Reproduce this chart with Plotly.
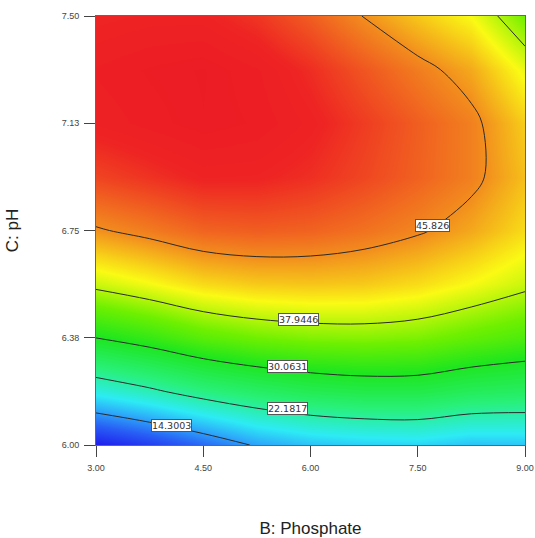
import plotly.graph_objects as go

# ---- data ----
B_VALUES = [3.0, 3.75, 4.5, 5.25, 6.0, 6.75, 7.5, 8.25, 9.0]          # B: Phosphate
C_VALUES = [6.0, 6.1875, 6.375, 6.5625, 6.75, 6.9375, 7.125, 7.3125, 7.5]  # C: pH

# response estimated on the grid (rows = C ascending, cols = B ascending)
RESP_C600 = [6.7, 9.0, 11.7, 14.7, 16.3, 17.0, 17.3, 16.3, 16.5]
RESP_C619 = [19.4, 21.5, 23.9, 25.6, 26.9, 27.6, 27.6, 26.4, 25.9]
RESP_C638 = [30.1, 31.9, 34.0, 35.3, 36.0, 36.2, 35.8, 34.5, 33.3]
RESP_C656 = [38.8, 40.4, 42.1, 42.9, 43.1, 42.9, 42.0, 40.5, 38.7]
RESP_C675 = [45.5, 46.8, 48.2, 48.6, 48.3, 47.4, 46.2, 44.5, 42.0]
RESP_C694 = [50.1, 51.2, 52.3, 52.2, 51.4, 50.0, 48.4, 46.6, 43.4]
RESP_C713 = [52.8, 53.6, 54.3, 53.8, 52.5, 50.6, 48.6, 46.6, 42.7]
RESP_C731 = [53.4, 54.0, 54.4, 53.4, 51.5, 49.1, 46.8, 44.5, 40.0]
RESP_C750 = [52.0, 52.4, 52.4, 51.0, 48.6, 45.7, 43.0, 40.5, 35.3]

CONTOUR_LEVELS = [14.3003, 22.18172, 30.06314, 37.94456, 45.82598]

X_TICK_VALUES = [3.0, 4.5, 6.0, 7.5, 9.0]
X_TICK_LABELS = ["3.00", "4.50", "6.00", "7.50", "9.00"]
Y_TICK_VALUES = [6.0, 6.375, 6.75, 7.125, 7.5]
Y_TICK_LABELS = ["6.00", "6.38", "6.75", "7.13", "7.50"]

X_TITLE = "B: Phosphate"
Y_TITLE = "C: pH"

# ---- styling / layout (not data) ----
LABEL_POS_B = [4.053, 5.685, 5.685, 5.832, 7.706]
LABEL_POS_C = [6.068, 6.128, 6.273, 6.440, 6.769]

Z = [RESP_C600, RESP_C619, RESP_C638, RESP_C656, RESP_C675,
     RESP_C694, RESP_C713, RESP_C731, RESP_C750]

colorscale = [
    [0.00, "rgb(30,25,235)"],
    [0.10, "rgb(40,95,245)"],
    [0.18, "rgb(45,170,250)"],
    [0.25, "rgb(45,235,245)"],
    [0.37, "rgb(40,240,120)"],
    [0.50, "rgb(30,230,30)"],
    [0.60, "rgb(110,240,0)"],
    [0.71, "rgb(250,250,20)"],
    [0.82, "rgb(242,140,30)"],
    [0.95, "rgb(238,35,35)"],
    [1.00, "rgb(236,28,36)"],
]

step = (CONTOUR_LEVELS[-1] - CONTOUR_LEVELS[0]) / (len(CONTOUR_LEVELS) - 1)

fig = go.Figure()
fig.add_trace(go.Contour(
    x=B_VALUES, y=C_VALUES, z=Z,
    colorscale=colorscale, zmin=6.5, zmax=54.5, showscale=False,
    autocontour=False,
    contours=dict(coloring="heatmap", start=CONTOUR_LEVELS[0],
                  end=CONTOUR_LEVELS[-1] + step * 0.01, size=step,
                  showlines=True, showlabels=False),
    line=dict(color="#2a2a2a", width=1, smoothing=1.0),
    hoverinfo="skip",
))

for lev, lb, lc in zip(CONTOUR_LEVELS, LABEL_POS_B, LABEL_POS_C):
    fig.add_annotation(
        x=lb, y=lc, xref="x", yref="y", text=format(lev, ".6g"),
        showarrow=False,
        font=dict(family="DejaVu Sans", size=9.5, color="#333"),
        bgcolor="white", bordercolor="#555", borderwidth=1, borderpad=0,
    )

axis_common = dict(
    showgrid=False, zeroline=False, showline=True, mirror=True,
    linecolor="#666", linewidth=1, ticks="outside", ticklen=11,
    tickcolor="#444", tickwidth=1, automargin=False,
    tickfont=dict(family="Arial, Liberation Sans", size=9, color="#444"),
)

fig.update_layout(
    width=535, height=538,
    margin=dict(l=96, r=10, t=16, b=93, autoexpand=False),
    paper_bgcolor="white", plot_bgcolor="white",
    showlegend=False, hovermode=False,
    xaxis=dict(range=[3, 9], tickvals=X_TICK_VALUES, ticktext=X_TICK_LABELS,
               ticklabelstandoff=3,
               title=dict(text=X_TITLE, standoff=51,
                          font=dict(family="Arial, Liberation Sans", size=17, color="#222")),
               **axis_common),
    yaxis=dict(range=[6, 7.5], tickvals=Y_TICK_VALUES, ticktext=Y_TICK_LABELS,
               ticklabelstandoff=3,
               title=dict(text=Y_TITLE, standoff=38,
                          font=dict(family="Arial, Liberation Sans", size=17, color="#222")),
               **axis_common),
)

PIN_PAGE = (
    "document.body.style.margin='0px';"
    "document.documentElement.style.overflow='hidden';"
    "document.body.style.overflow='hidden';"
    "var gd=document.getElementById('{plot_id}');"
    "gd.style.position='fixed';gd.style.left='0px';gd.style.top='0px';"
)

fig.write_html(
    "out.html",
    config={"displayModeBar": False, "staticPlot": True},
    post_script=PIN_PAGE,
)
